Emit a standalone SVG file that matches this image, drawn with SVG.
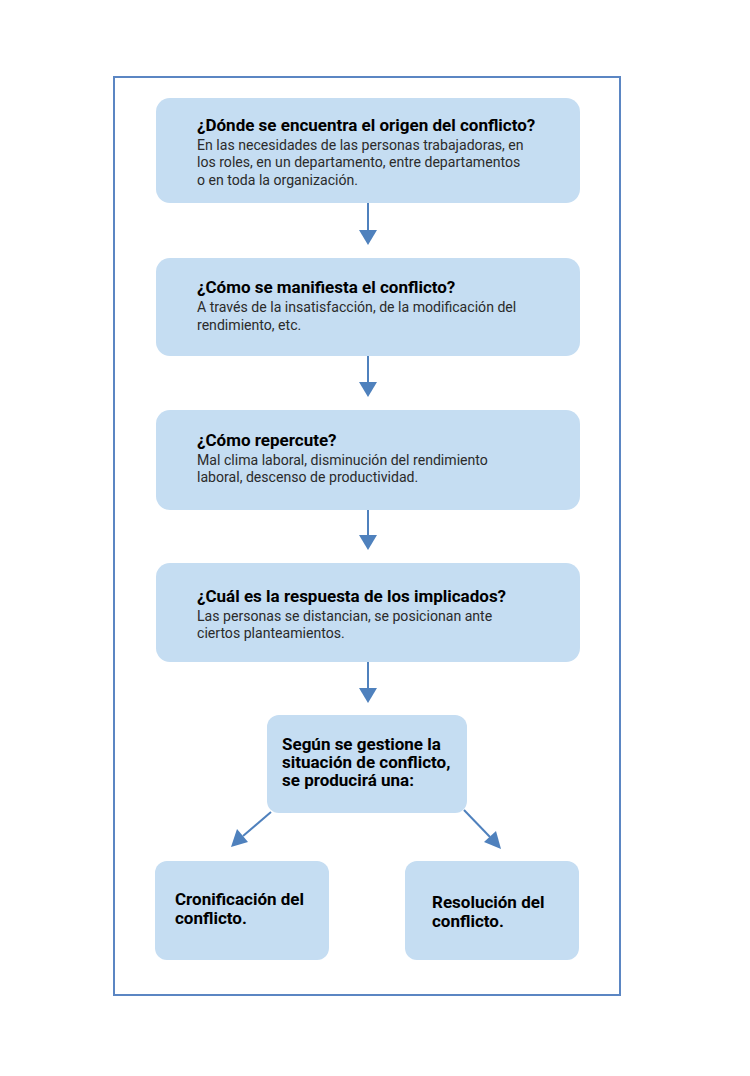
<svg xmlns="http://www.w3.org/2000/svg" width="750" height="1076" viewBox="0 0 750 1076">
<defs>
<style>
.box{fill:#c5ddf2}
.t{font-family:Roboto,"Liberation Sans",sans-serif;font-weight:700;font-size:17px;fill:#000}
.b{font-family:Roboto,"Liberation Sans",sans-serif;font-weight:400;font-size:14.1px;fill:#2b2b2b}
.c{stroke:#4f81bd;stroke-width:2;fill:none}
.h{fill:#4f81bd}
</style>
</defs>
<rect x="0" y="0" width="750" height="1076" fill="#fff"/>
<rect x="114" y="77" width="506" height="918" fill="none" stroke="#5b86c3" stroke-width="2"/>
<g id="n1"><rect class="box" x="156" y="98" width="424" height="105" rx="14"/>
<text class="t" x="197" y="131">¿Dónde se encuentra el origen del conflicto?</text>
<text class="b" x="197" y="150">En las necesidades de las personas trabajadoras, en</text>
<text class="b" x="197" y="167">los roles, en un departamento, entre departamentos</text>
<text class="b" x="197" y="185">o en toda la organización.</text></g>
<g id="n2"><rect class="box" x="156" y="258" width="424" height="98" rx="14"/>
<text class="t" x="197" y="293">¿Cómo se manifiesta el conflicto?</text>
<text class="b" x="197" y="312">A través de la insatisfacción, de la modificación del</text>
<text class="b" x="197" y="330">rendimiento, etc.</text></g>
<g id="n3"><rect class="box" x="156" y="410" width="424" height="100" rx="14"/>
<text class="t" x="197" y="446">¿Cómo repercute?</text>
<text class="b" x="197" y="465">Mal clima laboral, disminución del rendimiento</text>
<text class="b" x="197" y="482">laboral, descenso de productividad.</text></g>
<g id="n4"><rect class="box" x="156" y="563" width="424" height="99" rx="14"/>
<text class="t" x="197" y="602">¿Cuál es la respuesta de los implicados?</text>
<text class="b" x="197" y="621">Las personas se distancian, se posicionan ante</text>
<text class="b" x="197" y="638">ciertos planteamientos.</text></g>
<g id="n5"><rect class="box" x="267" y="715" width="200" height="98" rx="12"/>
<text class="t" x="282" y="750">Según se gestione la</text>
<text class="t" x="282" y="768">situación de conflicto,</text>
<text class="t" x="282" y="786">se producirá una:</text></g>
<g id="n6"><rect class="box" x="155" y="861" width="174" height="99" rx="12"/>
<text class="t" x="175" y="905">Cronificación del</text>
<text class="t" x="175" y="924">conflicto.</text></g>
<g id="n7"><rect class="box" x="405" y="861" width="174" height="99" rx="12"/>
<text class="t" x="432" y="908">Resolución del</text>
<text class="t" x="432" y="927">conflicto.</text></g>
<g id="connectors">
<line class="c" x1="368" y1="203" x2="368" y2="232"/><polygon class="h" points="359,230 377,230 368,245"/>
<line class="c" x1="368" y1="356" x2="368" y2="384"/><polygon class="h" points="359,382 377,382 368,397"/>
<line class="c" x1="368" y1="510" x2="368" y2="537"/><polygon class="h" points="359,535 377,535 368,550"/>
<line class="c" x1="368" y1="662" x2="368" y2="690"/><polygon class="h" points="359,688 377,688 368,703"/>
<line class="c" x1="271" y1="812" x2="243" y2="836"/><polygon class="h" points="231,847 237,829 248,842"/>
<line class="c" x1="464" y1="810" x2="490" y2="837"/><polygon class="h" points="501,849 484,842 496,831"/>
</g>
</svg>
